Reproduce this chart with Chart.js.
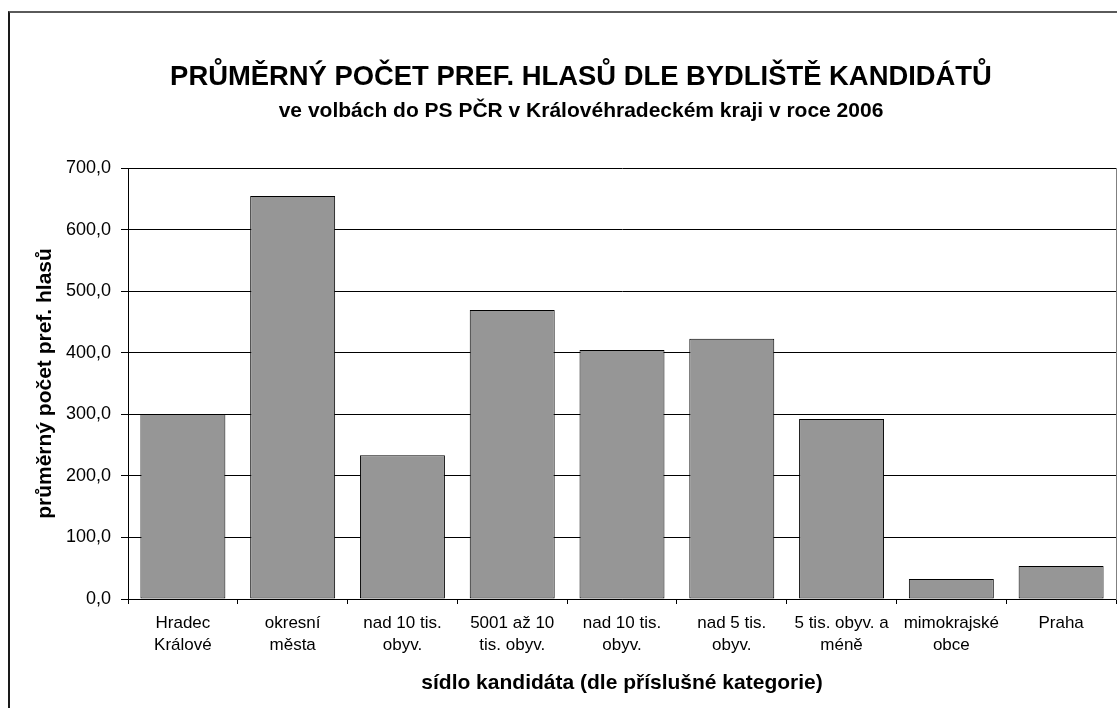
<!DOCTYPE html>
<html lang="cs">
<head>
<meta charset="utf-8">
<title>Průměrný počet pref. hlasů dle bydliště kandidátů</title>
<script src="https://cdn.jsdelivr.net/npm/chart.js@4.4.1/dist/chart.umd.min.js"></script>
<style>
  html, body { margin: 0; padding: 0; background: #fff; overflow: hidden; }
  #wrap { position: relative; width: 1117px; height: 708px; }
  #frame {
    position: absolute; left: 8px; top: 11px; width: 1200px; height: 800px;
    border-left: 2px solid #1a1a1a; border-top: 2px solid #5a5a5a;
  }
  canvas { position: absolute; left: 0; top: 0; }
</style>
</head>
<body>
<div id="wrap">
  <div id="frame"></div>
  <canvas id="chart" width="1117" height="708"></canvas>
</div>
<script>
// Categories: residence of the candidate
const categories = [
  ['Hradec', 'Králové'],
  ['okresní', 'města'],
  ['nad 10 tis.', 'obyv.'],
  ['5001 až 10', 'tis. obyv.'],
  ['nad 10 tis.', 'obyv.'],
  ['nad 5 tis.', 'obyv.'],
  ['5 tis. obyv. a', 'méně'],
  ['mimokrajské', 'obce'],
  'Praha'
];

// Average number of preferential votes per category
const averageVotes = [300.5, 654.5, 233.5, 469.5, 404.5, 422.5, 292.5, 32.5, 53.5];

// Value axis range and step
const yMin = 0;
const yMax = 700;
const yStep = 100;

// Heading lines
const titleText = 'PRŮMĚRNÝ POČET PREF. HLASŮ DLE BYDLIŠTĚ KANDIDÁTŮ';
const subtitleText = 've volbách do PS PČR v Královéhradeckém kraji v roce 2006';

const FONT = '"Liberation Sans", Arial, Helvetica, sans-serif';

Chart.defaults.font.family = FONT;
Chart.defaults.color = '#000';

// Heading drawn centred over the whole chart object (whose frame continues past the right edge)
const headingPlugin = {
  id: 'heading',
  afterDraw(chart) {
    const ctx = chart.ctx;
    ctx.save();
    ctx.fillStyle = '#000';
    ctx.textAlign = 'center';
    ctx.textBaseline = 'middle';
    ctx.font = 'bold 27.4px ' + FONT;
    ctx.fillText(titleText, 581, 77.5);
    ctx.font = 'bold 21px ' + FONT;
    ctx.fillText(subtitleText, 581, 111.5);
    ctx.restore();
  }
};

new Chart(document.getElementById('chart'), {
  type: 'bar',
  data: {
    labels: categories,
    datasets: [{
      data: averageVotes,
      backgroundColor: '#969696',
      borderColor: '#000',
      borderWidth: 1,
      borderSkipped: false,
      barPercentage: 0.774,
      categoryPercentage: 1.0
    }]
  },
  plugins: [headingPlugin],
  options: {
    responsive: false,
    animation: false,
    events: [],
    layout: { padding: { top: 168, left: 0, right: 1, bottom: 0 } },
    plugins: {
      legend: { display: false },
      tooltip: { enabled: false },
      title: { display: false }
    },
    scales: {
      x: {
        type: 'category',
        offset: true,
        grid: {
          offset: true,
          display: true,
          drawOnChartArea: false,
          drawTicks: true,
          tickLength: 5,
          color: '#000',
          lineWidth: 1
        },
        border: { display: true, color: '#000', width: 1 },
        ticks: {
          color: '#000',
          padding: 8.5,
          maxRotation: 0,
          autoSkip: false,
          font: { size: 17, family: FONT, lineHeight: 1.3 }
        },
        title: {
          display: true,
          text: 'sídlo kandidáta (dle příslušné kategorie)',
          color: '#000',
          font: { size: 21, weight: 'bold', family: FONT, lineHeight: 1.2 },
          padding: { top: 0, bottom: 12.4 }
        },
        afterFit(scale) { scale.height = 109; }
      },
      y: {
        type: 'linear',
        position: 'left',
        min: yMin,
        max: yMax,
        grid: {
          color: '#000',
          lineWidth: 1,
          drawTicks: true,
          tickLength: 7
        },
        border: { display: true, color: '#000', width: 1 },
        ticks: {
          stepSize: yStep,
          color: '#000',
          padding: 10,
          font: { size: 18, family: FONT },
          callback: (v) => v.toFixed(1).replace('.', ',')
        },
        title: {
          display: true,
          text: 'průměrný počet pref. hlasů',
          color: '#000',
          font: { size: 21, weight: 'bold', family: FONT, lineHeight: 1.2 },
          padding: { top: 32.4, bottom: 0 }
        },
        afterFit(scale) { scale.width = 128; }
      },
      yRight: {
        type: 'linear',
        position: 'right',
        min: yMin,
        max: yMax,
        grid: { display: true, drawOnChartArea: false, drawTicks: false },
        border: { display: true, color: '#808080', width: 1 },
        ticks: { display: false },
        afterFit(scale) { scale.width = 0; }
      }
    }
  }
});
</script>
</body>
</html>
